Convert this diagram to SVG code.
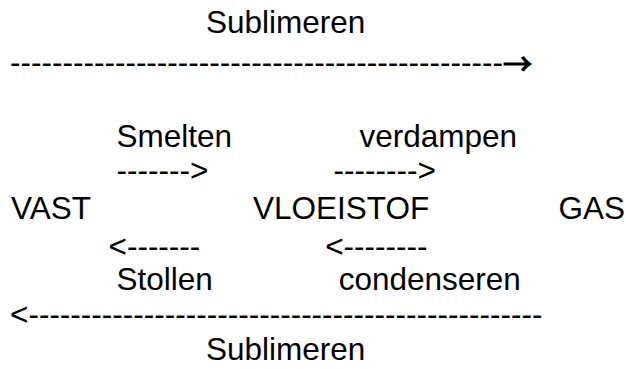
<svg xmlns="http://www.w3.org/2000/svg" width="626" height="369" viewBox="0 0 626 369">
<style>
text{font-family:"Liberation Sans",Arial,sans-serif;font-size:31.5px;fill:#000}
.arr{font-family:"Noto Sans CJK SC","DejaVu Sans",sans-serif;font-size:29px;stroke:#000;stroke-width:1.2px}
</style>
<rect width="626" height="369" fill="#fff"/>
<g id="node-vast"><text x="11" y="219">VAST</text></g>
<g id="node-vloeistof"><text x="253" y="219">VLOEISTOF</text></g>
<g id="node-gas"><text x="558.5" y="219">GAS</text></g>
<g id="connectors">
<text x="206" y="33">Sublimeren</text>
<text x="10" y="73">-----------------------------------------------<tspan class="arr" dy="2">→</tspan></text>
<text x="116.5" y="147">Smelten</text>
<text x="116.6" y="180.5">-------&gt;</text>
<text x="359.5" y="147">verdampen</text>
<text x="333.6" y="180.5">--------&gt;</text>
<text x="108.5" y="257">&lt;-------</text>
<text x="116.5" y="290">Stollen</text>
<text x="325.2" y="257">&lt;--------</text>
<text x="338.7" y="290">condenseren</text>
<text x="10" y="325">&lt;-------------------------------------------------</text>
<text x="206" y="360">Sublimeren</text>
</g>
</svg>
